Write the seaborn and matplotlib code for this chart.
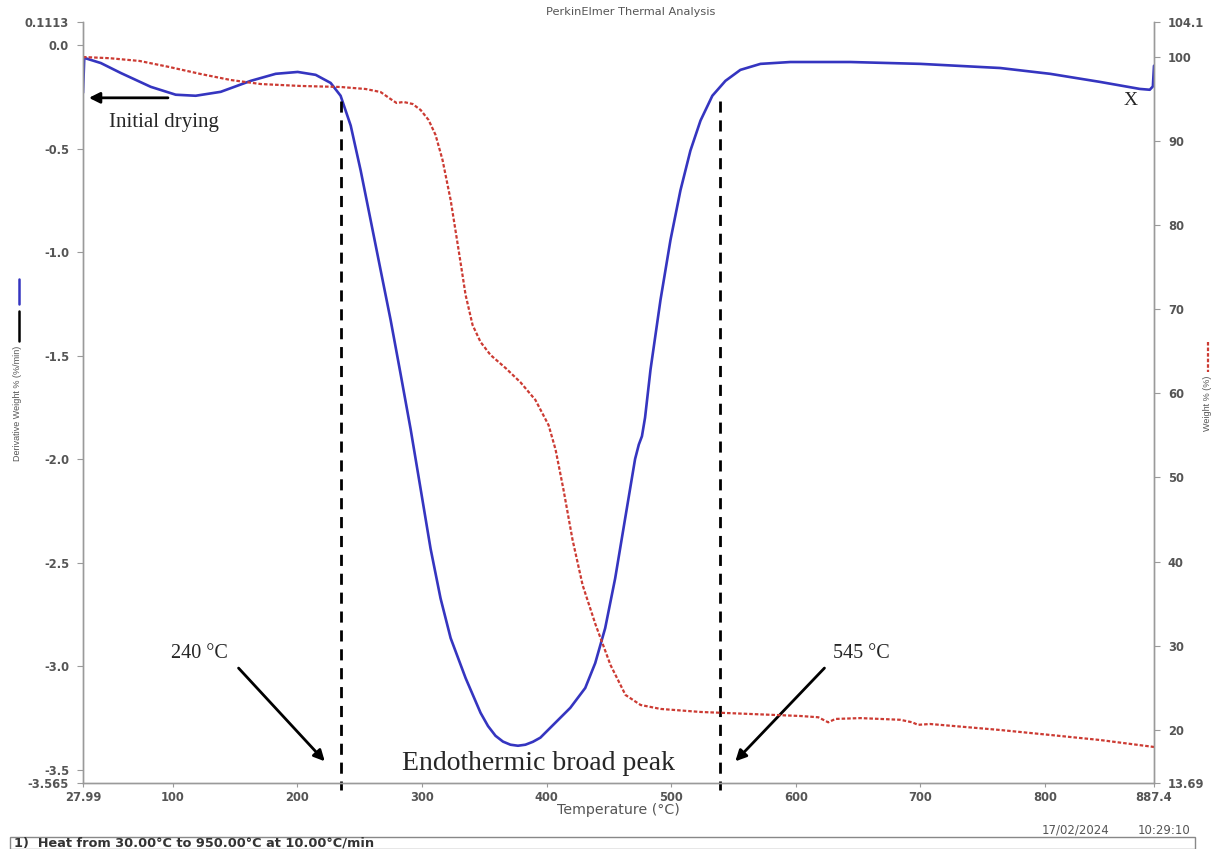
import numpy as np
import pandas as pd
import matplotlib
matplotlib.use('Agg')
import matplotlib.pyplot as plt
import seaborn as sns
from matplotlib.lines import Line2D
from matplotlib.patches import Rectangle

# derivative weight (blue, left axis)
dtg_temp = [27.99, 29.0, 42.3, 58.3, 82.4, 102.4, 118.4, 138.5, 162.6, 182.6, 200.3,
            214.7, 226.7, 234.7, 242.8, 250.8, 258.8, 266.8, 274.8, 282.9, 290.9,
            298.9, 306.9, 314.9, 323.0, 335.0, 347.0, 353.0, 359.0, 365.0, 371.0, 377.0,
            383.0, 389.0, 395.0, 407.0, 419.0, 431.0, 439.0, 447.0, 455.0, 463.0, 471.0,
            474.0, 476.5, 479.0, 483.4, 491.4, 499.4, 507.4, 515.4, 523.5, 533.0, 543.5,
            555.5, 571.6, 595.6, 643.8, 700.0, 764.0, 804.0, 844.0, 876.0, 884.0, 886.5, 887.4]
dtg_vals = [-0.231, -0.062, -0.087, -0.135, -0.202, -0.240, -0.245, -0.226, -0.173, -0.139, -0.130,
            -0.144, -0.183, -0.245, -0.389, -0.606, -0.846, -1.087, -1.327, -1.591, -1.856,
            -2.144, -2.433, -2.673, -2.865, -3.058, -3.226, -3.290, -3.337, -3.365, -3.380, -3.385,
            -3.380, -3.366, -3.346, -3.274, -3.202, -3.106, -2.986, -2.817, -2.577, -2.288, -2.000,
            -1.930, -1.890, -1.800, -1.567, -1.231, -0.942, -0.702, -0.510, -0.365, -0.245, -0.173,
            -0.120, -0.091, -0.082, -0.082, -0.091, -0.111, -0.139, -0.178, -0.212, -0.216, -0.200, -0.100]

# weight % (red dotted, right axis)
tg_temp = [28.0, 49.3, 73.4, 97.4, 122.5, 146.5, 170.6, 202.7, 234.7, 254.8, 266.8,
           274.8, 279.6, 285.2, 292.5, 298.9, 305.3, 310.9, 316.5, 323.0, 329.4,
           335.0, 340.6, 347.0, 355.0, 367.0, 379.0, 391.0, 401.6, 407.2, 413.6,
           420.8, 428.9, 439.3, 451.3, 463.3, 475.4, 491.4, 523.5, 563.6, 603.7,
           618.0, 626.0, 631.7, 651.7, 683.8, 693.4, 698.0, 707.7, 763.8, 803.9, 844.0, 887.4]
tg_vals = [99.94, 99.80, 99.47, 98.75, 97.92, 97.21, 96.73, 96.50, 96.38, 96.14, 95.78,
           94.95, 94.48, 94.60, 94.36, 93.65, 92.46, 90.68, 87.70, 82.95, 77.00,
           71.67, 68.10, 66.08, 64.54, 63.00, 61.30, 59.20, 56.20, 53.30, 48.50,
           42.60, 37.20, 32.50, 27.70, 24.15, 22.96, 22.49, 22.13, 21.89, 21.65,
           21.50, 20.90, 21.30, 21.40, 21.20, 20.90, 20.60, 20.70, 19.99, 19.40, 18.80, 17.97]

x_ticks = [27.99, 100, 200, 300, 400, 500, 600, 700, 800, 887.4]
x_labels = ['27.99', '100', '200', '300', '400', '500', '600', '700', '800', '887.4']
left_ticks = [0.1113, 0.0, -0.5, -1.0, -1.5, -2.0, -2.5, -3.0, -3.5, -3.565]
left_labels = ['0.1113', '0.0', '-0.5', '-1.0', '-1.5', '-2.0', '-2.5', '-3.0', '-3.5', '-3.565']
right_ticks = [104.1, 100, 90, 80, 70, 60, 50, 40, 30, 20, 13.69]
right_labels = ['104.1', '100', '90', '80', '70', '60', '50', '40', '30', '20', '13.69']
onset_temps = [234.7, 539.5]

dtg = pd.DataFrame({'temp': dtg_temp, 'dtg': dtg_vals})
tg = pd.DataFrame({'temp': tg_temp, 'weight': tg_vals})

sns.set_style('ticks')
plt.rcParams['font.family'] = ['DejaVu Sans']

blue = '#3535c0'
red = '#cc3b33'
grey = '#9a9a9a'
txt = '#555555'
tickfont = dict(family='DejaVu Sans', weight='bold', size=8.3)

fig = plt.figure(figsize=(12.21, 8.49), dpi=100)
ax = fig.add_axes([83 / 1221, 66 / 849, 1071 / 1221, 761 / 849])
ax2 = ax.twinx()

sns.lineplot(data=dtg, x='temp', y='dtg', ax=ax, color=blue, lw=1.9, estimator=None)
sns.lineplot(data=tg, x='temp', y='weight', ax=ax2, color=red, lw=1.6,
             linestyle=(0, (1.6, 0.9)), estimator=None)

ax.set_xlim(27.99, 887.4)
ax.set_ylim(-3.565, 0.1113)
ax2.set_ylim(13.69, 104.1)

for a in (ax, ax2):
    a.spines['top'].set_visible(False)
    for s in ('left', 'right', 'bottom'):
        a.spines[s].set_color(grey)
        a.spines[s].set_linewidth(1.0)

ax.set_xticks(x_ticks)
ax.set_xticklabels(x_labels, fontdict=tickfont, color=txt)
ax.set_yticks(left_ticks)
ax.set_yticklabels(left_labels, fontdict=tickfont, color=txt)
ax2.set_yticks(right_ticks)
ax2.set_yticklabels(right_labels, fontdict=tickfont, color=txt)
ax.tick_params(axis='x', length=3, pad=3, colors=grey, labelcolor=txt)
ax.tick_params(axis='y', length=4, pad=6, colors=grey, labelcolor=txt)
ax2.tick_params(axis='y', length=4, pad=6, colors=grey, labelcolor=txt)

ax.set_xlabel('Temperature (°C)', fontsize=10.2, color=txt, labelpad=-1)
ax.set_ylabel('')
ax2.set_ylabel('')

# onset / endset markers
for t in onset_temps:
    ax.plot([t, t], [-0.27, -3.6], color='black', lw=2.0, ls=(0, (4, 2.8)), clip_on=False)

serif = ['Liberation Serif', 'DejaVu Serif']
arrow = dict(arrowstyle='-|>', color='black', lw=2.0, mutation_scale=16)
ax.annotate('', xy=(30.5, -0.255), xytext=(98.4, -0.255), arrowprops=arrow)
ax.text(48.7, -0.375, 'Initial drying', family=serif, fontsize=15, va='center', ha='left')
ax.annotate('', xy=(223.5, -3.47), xytext=(151.3, -3.0), arrowprops=arrow)
ax.text(121.7, -2.94, '240 °C', family=serif, fontsize=14.5, va='center', ha='center')
ax.annotate('', xy=(549.9, -3.47), xytext=(624.5, -3.0), arrowprops=arrow)
ax.text(652.6, -2.94, '545 °C', family=serif, fontsize=14.5, va='center', ha='center')
ax.text(393.5, -3.47, 'Endothermic broad peak', family=serif, fontsize=20, va='center', ha='center')
ax.text(868.3, -0.27, 'X', family=serif, fontsize=14, va='center', ha='center')

# header, axis labels with line keys, footer
fig.text(631 / 1221, 1 - 12 / 849, 'PerkinElmer Thermal Analysis', fontsize=8.2, color=txt,
         ha='center', va='center')
fig.text(18 / 1221, 1 - 346 / 849, 'Derivative Weight % (%/min)', rotation=90, fontsize=6.5,
         family='Liberation Sans', color=txt, ha='center', va='top')
fig.lines.append(Line2D([19 / 1221, 19 / 1221], [1 - 279 / 849, 1 - 304 / 849],
                        transform=fig.transFigure, color=blue, lw=1.8))
fig.lines.append(Line2D([19 / 1221, 19 / 1221], [1 - 311 / 849, 1 - 341 / 849],
                        transform=fig.transFigure, color='black', lw=1.8))
fig.text(1208 / 1221, 1 - 376 / 849, 'Weight % (%)', rotation=90, fontsize=6.5,
         family='Liberation Sans', color=txt, ha='center', va='top')
fig.lines.append(Line2D([1208 / 1221, 1208 / 1221], [1 - 342 / 849, 1 - 372 / 849],
                        transform=fig.transFigure, color=red, lw=1.6, ls=(0, (1.6, 0.9))))

fig.text(1076 / 1221, 1 - 830 / 849, '17/02/2024', fontsize=8.5, color=txt, ha='center', va='center')
fig.text(1164 / 1221, 1 - 830 / 849, '10:29:10', fontsize=8.5, color=txt, ha='center', va='center')
fig.patches.append(Rectangle((10 / 1221, 0), 1185 / 1221, 12 / 849, transform=fig.transFigure,
                             fill=False, edgecolor='#888888', lw=1.0))
fig.text(14 / 1221, 1 - 843 / 849, '1)  Heat from 30.00°C to 950.00°C at 10.00°C/min',
         fontsize=9.3, weight='bold', color='#333333', ha='left', va='center')

fig.savefig('out.png', dpi=100)
